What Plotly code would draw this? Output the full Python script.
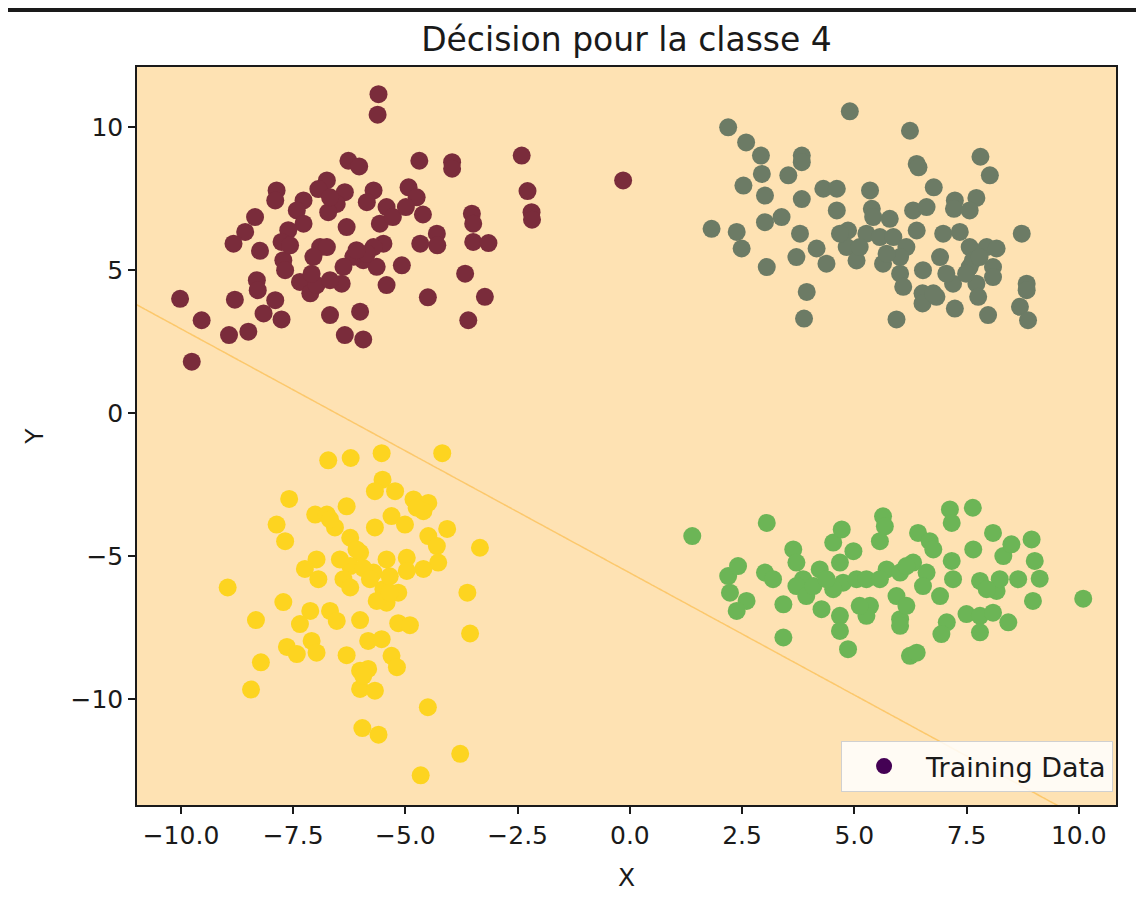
import numpy as np
import plotly.graph_objects as go

# points, one pair of lists per class
class1_x = [-5.60, -5.62, -6.27, -6.03, -4.69, -3.96, -3.96, -2.41, -2.28, -2.19, -2.18, -3.52, -3.49, -3.49,
            -3.15, -3.67, -3.23, -3.60, -4.50, -4.61, -4.67, -4.30, -4.29, -4.93, -4.75, -5.08, -5.42, -5.71,
            -5.86, -5.42, -5.57, -5.49, -5.71, -5.94, -5.64, -6.16, -6.38, -6.42, -6.31, -6.35, -6.53, -6.75,
            -6.94, -6.72, -6.90, -6.75, -7.05, -7.27, -7.42, -7.27, -7.61, -7.76, -7.72, -7.68, -7.87, -7.90,
            -7.35, -7.12, -6.98, -6.68, -6.68, -6.01, -6.35, -5.94, -8.35, -8.57, -8.83, -8.24, -8.31, -8.29,
            -7.90, -8.16, -7.76, -8.50, -8.93, -8.80, -9.54, -10.02, -9.76, -5.86, -7.57, -7.09, -6.09, -5.28,
            -4.99, -6.68, -0.15]
class1_y = [11.16, 10.44, 8.83, 8.63, 8.83, 8.78, 8.55, 9.01, 7.77, 7.03, 6.77, 6.98, 6.63, 5.99,
            5.95, 4.88, 4.07, 3.25, 4.05, 6.95, 5.93, 6.28, 5.87, 7.90, 7.55, 5.17, 4.48, 7.79,
            7.38, 7.21, 6.63, 5.93, 5.81, 5.35, 5.12, 5.47, 5.12, 4.53, 6.51, 7.73, 7.32, 8.14,
            7.84, 7.03, 5.81, 5.81, 5.47, 7.44, 7.09, 6.63, 6.40, 5.99, 5.35, 5.00, 7.79, 7.44,
            4.59, 4.19, 4.48, 4.65, 3.43, 3.55, 2.73, 2.58, 6.86, 6.34, 5.93, 5.68, 4.65, 4.30,
            3.95, 3.49, 3.28, 2.85, 2.73, 3.97, 3.25, 4.00, 1.80, 5.58, 5.87, 4.88, 5.70, 6.86,
            7.21, 7.55, 8.14]

class2_x = [4.90, 2.19, 2.59, 2.92, 3.83, 3.83, 6.24, 2.94, 3.53, 2.53, 3.01, 3.83, 4.31, 4.61, 5.35,
            6.39, 6.43, 6.77, 7.81, 8.02, 7.72, 7.24, 7.22, 7.57, 4.61, 5.39, 1.82, 2.38, 2.49, 3.01,
            3.38, 3.79, 3.71, 4.16, 3.05, 4.38, 4.86, 4.83, 5.05, 5.27, 5.42, 5.79, 5.57, 5.87, 6.31,
            6.61, 6.39, 6.16, 5.64, 6.02, 6.09, 6.53, 6.52, 6.52, 6.91, 6.83, 6.98, 7.35, 7.20, 7.24,
            7.57, 7.57, 7.72, 7.76, 7.95, 8.17, 8.09, 8.09, 7.98, 8.73, 8.84, 8.84, 8.69, 8.87, 3.94,
            3.88, 5.94, 7.64, 7.49, 7.79, 6.02, 5.12, 7.05, 6.76, 5.72, 4.68]
class2_y = [10.56, 10.00, 9.47, 9.01, 9.01, 8.78, 9.88, 8.37, 8.32, 7.96, 7.61, 7.49, 7.85, 7.85, 7.79,
            8.72, 8.60, 7.90, 8.97, 8.32, 7.53, 7.44, 7.15, 7.09, 7.09, 7.15, 6.45, 6.34, 5.76, 6.68,
            6.86, 6.28, 5.46, 5.76, 5.11, 5.23, 6.39, 5.81, 5.34, 6.28, 6.86, 6.80, 6.16, 6.16, 7.09,
            7.21, 6.39, 5.81, 5.23, 4.88, 4.42, 5.00, 4.19, 3.84, 5.46, 4.07, 6.28, 6.34, 4.53, 3.66,
            5.81, 5.11, 4.53, 4.07, 5.81, 5.76, 5.11, 4.76, 3.43, 6.28, 4.53, 4.30, 3.72, 3.25, 4.24,
            3.31, 3.28, 5.34, 4.88, 5.46, 5.46, 5.81, 4.88, 4.19, 5.58, 6.28]

class3_x = [-6.72, -6.22, -5.53, -4.18, -5.51, -5.68, -5.23, -7.59, -4.82, -4.49, -4.60, -6.31, -7.01, -6.75,
            -7.87, -7.68, -6.57, -6.23, -5.68, -5.31, -5.01, -4.07, -3.34, -4.49, -4.30, -4.27, -4.60, -4.97,
            -5.42, -5.71, -6.01, -6.23, -6.38, -6.23, -6.98, -7.24, -6.94, -5.49, -5.16, -5.42, -5.64, -3.62,
            -8.96, -7.72, -8.33, -7.12, -6.68, -7.35, -6.53, -6.01, -5.16, -4.90, -3.56, -7.64, -7.42, -7.09,
            -6.98, -6.31, -5.83, -5.53, -5.31, -5.19, -6.01, -5.83, -6.01, -5.68, -8.22, -8.44, -4.50, -5.96,
            -5.60, -3.78, -4.66, -6.09, -5.94, -5.35, -5.79, -6.46, -6.68, -4.97, -5.35, -5.94, -4.75]
class3_y = [-1.65, -1.57, -1.40, -1.40, -2.33, -2.73, -2.73, -3.00, -3.02, -3.14, -3.43, -3.26, -3.55, -3.55,
            -3.90, -4.48, -4.00, -4.36, -4.00, -3.60, -3.90, -4.05, -4.71, -4.30, -4.65, -5.23, -5.45, -5.06,
            -5.12, -5.58, -4.88, -5.35, -5.81, -6.10, -5.12, -5.45, -5.81, -6.16, -6.28, -6.63, -6.57, -6.28,
            -6.10, -6.61, -7.24, -6.92, -6.92, -7.38, -7.27, -7.24, -7.35, -7.42, -7.71, -8.18, -8.43, -7.97,
            -8.38, -8.47, -7.97, -7.91, -8.49, -8.89, -9.01, -8.95, -9.65, -9.71, -8.72, -9.67, -10.29, -11.02,
            -11.25, -11.92, -12.67, -4.77, -5.42, -5.71, -5.81, -5.12, -3.72, -5.52, -6.28, -9.19, -3.31]

class4_x = [1.39, 3.05, 2.19, 2.41, 2.23, 2.60, 2.38, 3.01, 3.19, 3.42, 3.42, 3.64, 3.71, 3.86, 3.71, 3.93,
            4.23, 4.27, 4.53, 4.72, 4.98, 4.68, 4.75, 4.53, 5.05, 4.68, 4.68, 4.86, 5.35, 5.27, 5.27, 5.64,
            5.68, 5.57, 5.72, 6.02, 5.94, 6.02, 6.02, 6.24, 6.39, 6.16, 6.42, 6.68, 6.76, 6.31, 6.61, 6.91,
            7.17, 7.13, 7.17, 7.64, 7.65, 8.09, 7.06, 6.94, 7.50, 7.80, 7.80, 8.09, 8.43, 7.80, 8.17, 8.32,
            8.50, 8.24, 8.65, 8.95, 9.02, 9.13, 8.98, 10.10, 7.20, 6.53, 5.57, 4.09, 4.38, 5.12, 6.16, 7.95]
class4_y = [-4.30, -3.84, -5.70, -5.35, -6.28, -6.57, -6.92, -5.58, -5.81, -6.69, -7.85, -4.77, -5.23, -5.81,
            -6.05, -6.40, -5.47, -6.86, -4.53, -4.07, -4.83, -5.23, -5.93, -6.16, -5.81, -7.09, -7.62, -8.26,
            -6.74, -7.09, -5.81, -3.61, -3.96, -4.48, -5.47, -5.58, -6.40, -7.21, -7.44, -8.49, -8.38, -6.74,
            -4.19, -4.48, -4.77, -5.23, -5.58, -6.40, -5.17, -3.37, -3.84, -3.31, -4.77, -4.19, -7.32, -7.73,
            -7.03, -7.09, -7.67, -6.98, -7.32, -5.87, -6.22, -5.00, -4.59, -5.81, -5.81, -4.42, -5.17, -5.79,
            -6.57, -6.49, -5.81, -6.05, -5.81, -6.05, -5.81, -6.74, -5.35, -6.16]

class_colors = ["#7a2c3b", "#6c7b65", "#fdd420", "#6cb556"]
legend_color = "#440154"

# linear decision function for class 4: w . (x, y) + b = 0
w = [0.854, 1.0]
b = 5.59

x_range = [-10.98, 10.83]
y_range = [-13.71, 12.11]

xs = [class1_x, class2_x, class3_x, class4_x]
ys = [class1_y, class2_y, class3_y, class4_y]
all_x, all_y, all_c = [], [], []
for cx, cy, col in zip(xs, ys, class_colors):
    all_x += cx
    all_y += cy
    all_c += [col] * len(cx)

gx = np.linspace(x_range[0] - 0.5, x_range[1] + 0.5, 300)
gy = np.linspace(y_range[0] - 0.5, y_range[1] + 0.5, 300)
GX, GY = np.meshgrid(gx, gy)
Z = w[0] * GX + w[1] * GY + b

fig = go.Figure()

fig.add_trace(go.Contour(
    x=gx, y=gy, z=Z,
    contours=dict(start=0, end=0, size=1, coloring="none"),
    line=dict(color="#fcc86c", width=1.5),
    showscale=False, hoverinfo="skip", showlegend=False
))

fig.add_trace(go.Scatter(
    x=all_x, y=all_y, mode="markers",
    marker=dict(size=18, color=all_c, line=dict(width=0)),
    showlegend=False
))

fig.add_trace(go.Scatter(
    x=[None], y=[None], mode="markers", name="Training Data",
    marker=dict(size=18, color=legend_color)
))

font = "DejaVu Sans, Verdana, sans-serif"

# the page body adds 8px around the figure, so the figure is 16px smaller than the window
W, H = 1128, 894
fig.update_layout(
    width=W, height=H,
    margin=dict(l=129, r=20, t=59, b=97),
    paper_bgcolor="white",
    plot_bgcolor="#fee2b3",
    font=dict(family=font, size=25, color="#1a1a1a"),
    title=dict(text="Décision pour la classe 4", x=(129 + 1108) / 2 / W, xanchor="center",
               y=1 - 31 / H, yanchor="middle", yref="container",
               font=dict(size=33, family=font, color="#1a1a1a")),
    xaxis=dict(
        range=x_range, showgrid=False, zeroline=False,
        showline=True, linecolor="#1a1a1a", linewidth=1.5, mirror=True,
        ticks="outside", ticklen=7, tickwidth=1.5, tickcolor="#1a1a1a",
        tickvals=[-10, -7.5, -5, -2.5, 0, 2.5, 5, 7.5, 10],
        ticktext=["−10.0", "−7.5", "−5.0", "−2.5", "0.0", "2.5", "5.0", "7.5", "10.0"],
        title=dict(text="X", standoff=20, font=dict(size=25)),
    ),
    yaxis=dict(
        range=y_range, showgrid=False, zeroline=False,
        showline=True, linecolor="#1a1a1a", linewidth=1.5, mirror=True,
        ticks="outside", ticklen=7, tickwidth=1.5, tickcolor="#1a1a1a",
        tickvals=[-10, -5, 0, 5, 10],
        ticktext=["−10", "−5", "0", "5", "10"],
        title=dict(text="Y", standoff=20, font=dict(size=25)),
    ),
    legend=dict(
        x=0.997, y=0.0176, xanchor="right", yanchor="bottom",
        bgcolor="rgba(255,255,255,0.85)", bordercolor="#d0d0d0", borderwidth=1,
        font=dict(size=27, family=font), itemwidth=74,
    ),
    shapes=[dict(type="rect", xref="paper", yref="paper",
                 x0=-129 / 979, x1=(W - 129) / 979,
                 y0=(797 - 4) / 738, y1=(797 + 2) / 738,
                 fillcolor="#1a1a1a", line=dict(width=0), layer="above")],
)

fig.write_html("out.html")
